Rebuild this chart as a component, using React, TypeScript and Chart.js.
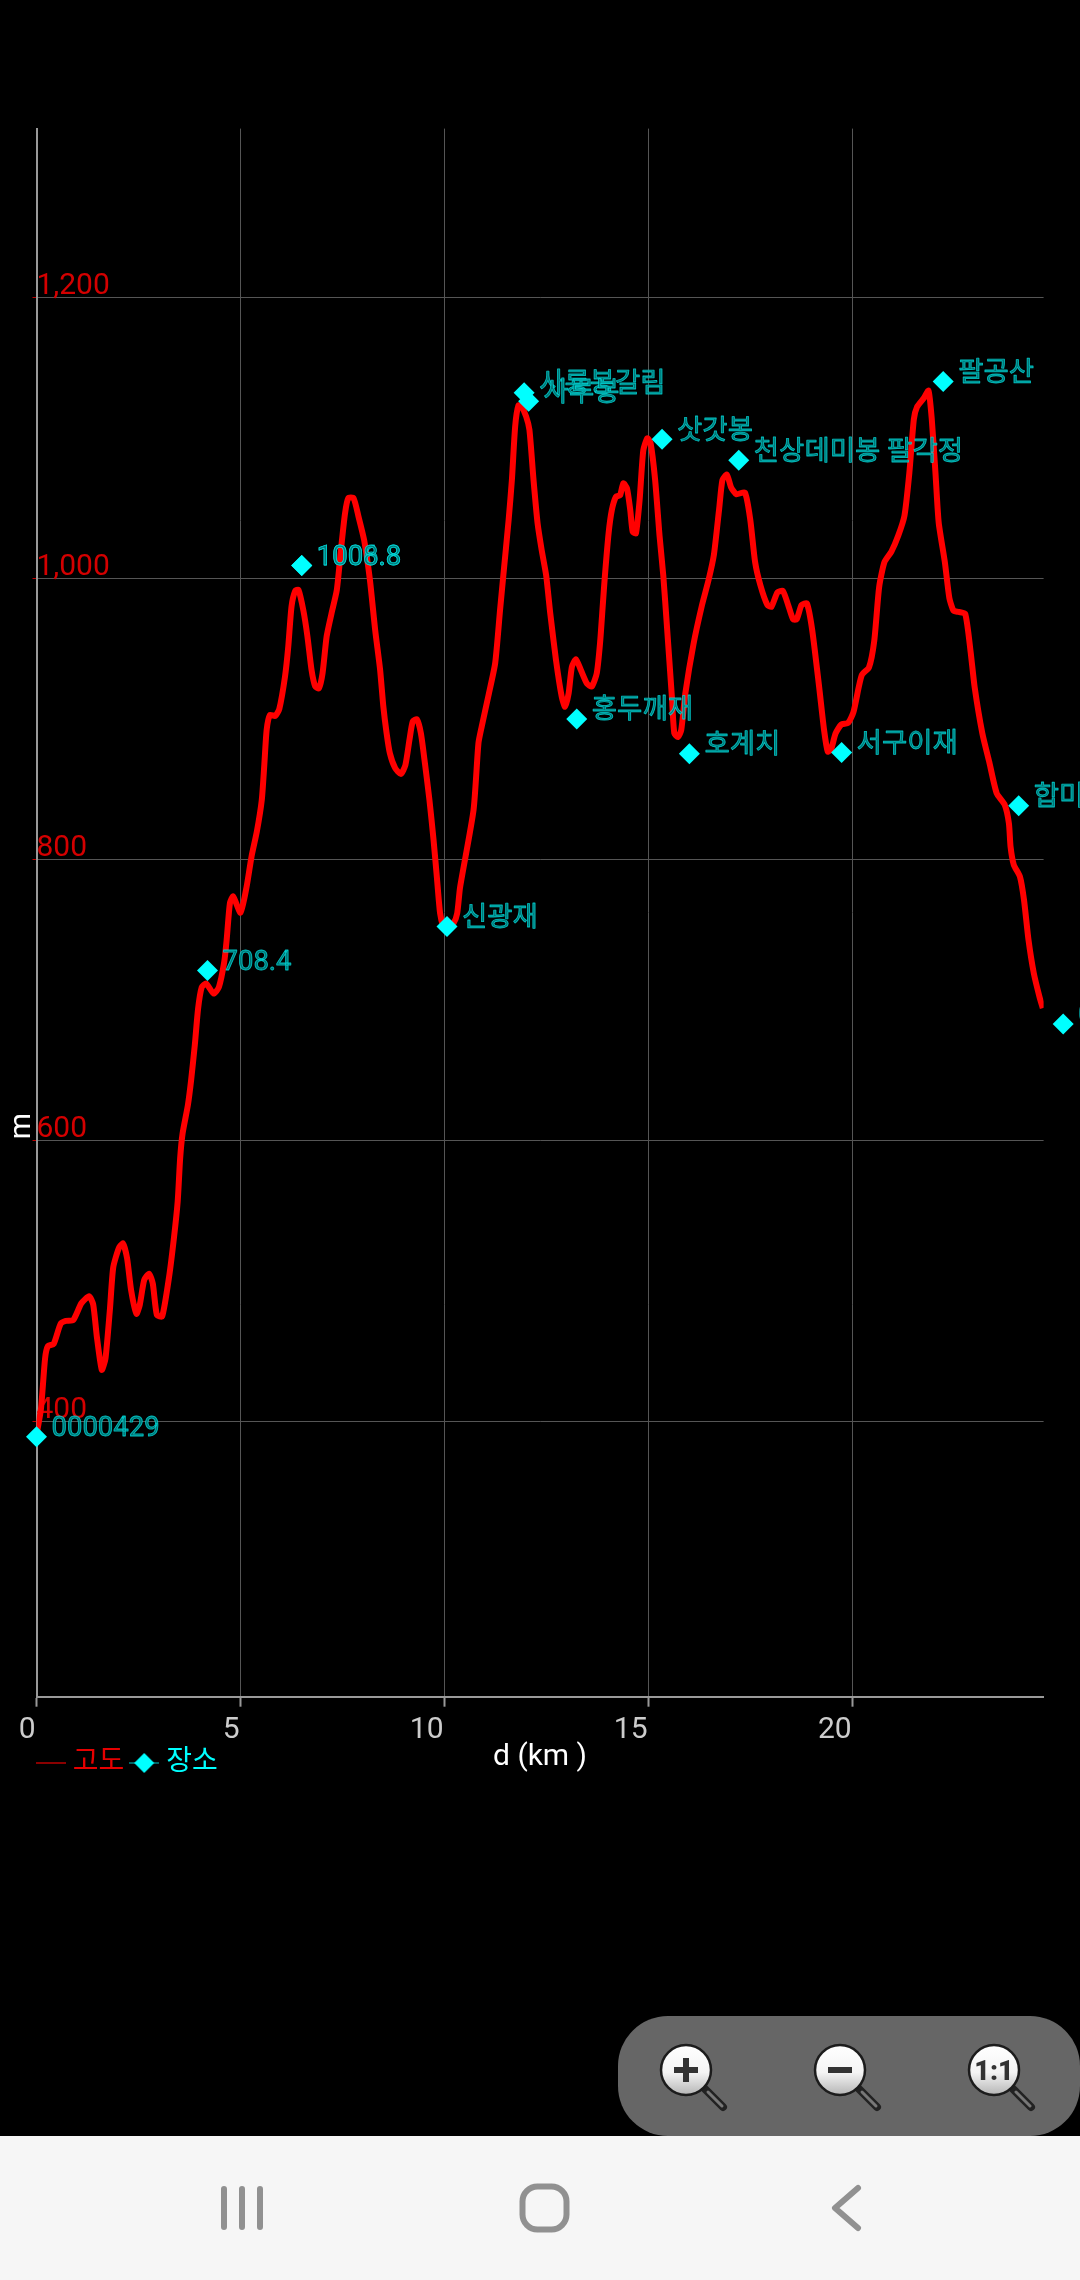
import React, { useEffect, useRef } from "react";
import { Chart, registerables } from "chart.js";

Chart.register(...registerables);

const TEXT_FONT = 'Roboto, "Noto Sans CJK KR", sans-serif';

// Elevation profile: distance (km) / altitude (m)
const distanceKm = [
  0, 0.11, 0.21, 0.28, 0.42, 0.59, 0.72, 0.9, 1.1, 1.29, 1.39, 1.48, 1.6, 1.69, 1.8, 1.88, 2.02, 2.12, 2.22, 2.32,
  2.45, 2.53, 2.64, 2.76, 2.85, 2.95, 3.08, 3.25, 3.37, 3.46, 3.52, 3.58, 3.71, 3.79, 3.88, 3.96, 4.05, 4.16, 4.34, 4.47,
  4.6, 4.66, 4.74, 4.82, 5.0, 5.15, 5.27, 5.4, 5.52, 5.58, 5.64, 5.72, 5.85, 5.95, 6.09, 6.17, 6.25, 6.34, 6.42, 6.54,
  6.64, 6.74, 6.83, 6.92, 7.01, 7.11, 7.23, 7.36, 7.46, 7.56, 7.64, 7.77, 7.89, 8.03, 8.17, 8.3, 8.42, 8.5, 8.58, 8.66,
  8.79, 8.93, 9.04, 9.14, 9.22, 9.32, 9.42, 9.52, 9.63, 9.73, 9.81, 9.89, 9.97, 10.05, 10.22, 10.31, 10.38, 10.71, 10.83, 10.91,
  11.07, 11.24, 11.36, 11.44, 11.57, 11.65, 11.73, 11.81, 11.89, 12.0, 12.08, 12.18, 12.28, 12.38, 12.49, 12.59, 12.73, 12.87, 12.95, 13.04,
  13.12, 13.22, 13.34, 13.49, 13.61, 13.73, 13.81, 13.88, 13.93, 14.02, 14.1, 14.2, 14.3, 14.38, 14.47, 14.55, 14.61, 14.69, 14.78, 14.87,
  14.97, 15.05, 15.16, 15.27, 15.36, 15.45, 15.57, 15.63, 15.72, 15.8, 15.9, 16.1, 16.31, 16.47, 16.6, 16.73, 16.81, 16.92, 17.02, 17.15,
  17.36, 17.49, 17.61, 17.74, 17.91, 18.01, 18.16, 18.29, 18.42, 18.54, 18.63, 18.75, 18.88, 19.01, 19.18, 19.3, 19.39, 19.47, 19.58, 19.72,
  19.89, 20.02, 20.15, 20.23, 20.4, 20.53, 20.65, 20.78, 20.95, 21.12, 21.27, 21.39, 21.5, 21.58, 21.75, 21.86, 21.94, 22.03, 22.11, 22.26,
  22.37, 22.47, 22.6, 22.76, 22.89, 22.99, 23.18, 23.35, 23.53, 23.73, 23.83, 23.87, 23.95, 24.1, 24.2, 24.31, 24.44, 24.58, 24.66,
];
const altitudeM = [
  390, 409, 444.7, 453.6, 455, 469.3, 471.4, 472, 484, 489, 483, 460, 436.6, 444.7, 480, 509.5, 523.5, 526.5, 516, 493,
  476.5, 482.8, 500.6, 505, 498, 475.7, 474.7, 503, 531, 556.5, 587, 604.8, 625, 643, 668, 693.7, 709, 711.5, 704.4, 709,
  726.8, 742.6, 768.7, 773.5, 762, 780.6, 802, 819.7, 842, 866, 892, 902.7, 902, 907, 930, 951.4, 980, 991, 991.7, 977,
  958.5, 934.8, 923, 921.7, 932.4, 958.5, 975, 991.7, 1020, 1046, 1057, 1057, 1044, 1027, 999, 963, 935, 908.6, 889.7, 875.4,
  864.8, 860.7, 867, 885, 898, 899.6, 889.7, 868, 842, 813.8, 787.7, 761.6, 752, 749.7, 754.5, 761.6, 780, 835, 882.5, 894.4,
  915.8, 939.5, 977.4, 1002, 1041.5, 1070, 1108, 1123, 1122, 1115, 1105.6, 1070, 1039, 1020, 1002, 975, 941.9, 915.8, 908.6, 918,
  937, 942.3, 934.7, 925, 923, 932.4, 953.7, 982, 1002, 1032, 1048.6, 1058, 1059, 1067.6, 1064, 1048.6, 1033, 1032, 1055.7, 1091,
  1099.6, 1096, 1070, 1029.7, 1002, 965.6, 915.8, 889.7, 887, 892, 918, 953, 981, 998.8, 1016.6, 1049.6, 1070, 1073.7, 1064.8, 1059.8,
  1061, 1042, 1011.5, 995, 981, 979.7, 990, 991, 981, 970.8, 970.8, 981, 982, 963, 922.5, 892, 876.7, 878, 889.4, 895.8,
  897, 904.7, 922.5, 931.4, 936.5, 955.5, 993.7, 1011.5, 1019, 1030.5, 1044.5, 1075, 1113, 1122, 1128.4, 1133.5, 1113, 1075, 1039.4, 1011.5,
  986, 977, 976, 974.6, 948, 922.5, 889.4, 869, 847, 838.6, 825.6, 809, 796, 787.6, 771, 742.6, 718.9, 702, 694,
];

// Named places (waypoints)
const placeKm = [0, 4.19, 6.5, 6.5, 10.06, 11.95, 12.06, 13.24, 15.33, 16.0, 17.21, 19.73, 22.22, 24.07, 25.16];
const placeM = [389, 720.9, 1009, 1009, 752.2, 1132, 1126, 899.9, 1099, 875, 1083.9, 875.9, 1140, 838, 682.8];
const placeLabels = [
  "0000429", "708.4", "1006.8", "1008.8", "신광재", "사룡봉갈림", "사루봉", "홍두깨재", "삿갓봉", "호계치",
  "천상데미봉 팔각정", "서구이재", "팔공산", "합미성", "0000",
];

const xTickValues = [0, 5, 10, 15, 20];
const yTickValues = [400, 600, 800, 1000, 1200];
const xRange = [0, 24.68];
const yRange = [204, 1320];
const legendNames = ["고도", "장소"];
const xTitle = "d (km )";
const yTitle = "m";

function legendLine(diamond: boolean) {
  const c = document.createElement("canvas");
  c.width = 30;
  c.height = 24;
  const g = c.getContext("2d")!;
  g.strokeStyle = diamond ? "#00c8c8" : "#8a0000";
  g.lineWidth = diamond ? 1 : 2;
  g.beginPath();
  g.moveTo(0, 12);
  g.lineTo(30, 12);
  g.stroke();
  if (diamond) {
    g.fillStyle = "#00ffff";
    g.beginPath();
    g.moveTo(15, 2);
    g.lineTo(25, 12);
    g.lineTo(15, 22);
    g.lineTo(5, 12);
    g.closePath();
    g.fill();
  }
  return c;
}

const placeTextPlugin = {
  id: "placeText",
  afterDatasetsDraw(chart: any) {
    const { ctx, chartArea, scales } = chart;
    ctx.save();
    // Chart.js culls points lying past the plot area; the last waypoint lies there.
    placeKm.forEach((km, i) => {
      const px = scales.x.getPixelForValue(km);
      const py = scales.y.getPixelForValue(placeM[i]);
      if (px > chartArea.right + 10) {
        ctx.fillStyle = "#00ffff";
        ctx.beginPath();
        ctx.moveTo(px, py - 10.5);
        ctx.lineTo(px + 10.5, py);
        ctx.lineTo(px, py + 10.5);
        ctx.lineTo(px - 10.5, py);
        ctx.closePath();
        ctx.fill();
      }
    });
    ctx.font = `27.5px ${TEXT_FONT}`;
    ctx.textAlign = "left";
    ctx.textBaseline = "middle";
    ctx.lineJoin = "round";
    placeKm.forEach((km, i) => {
      const tx = scales.x.getPixelForValue(km) + 15;
      const ty = scales.y.getPixelForValue(placeM[i]) - 7.5;
      ctx.fillStyle = "rgba(0,125,125,0.95)";
      ctx.strokeStyle = "rgba(0,235,235,0.75)";
      ctx.lineWidth = 0.8;
      ctx.fillText(placeLabels[i], tx, ty);
      ctx.strokeText(placeLabels[i], tx, ty);
    });
    ctx.restore();
  },
};

const sideTextPlugin = {
  id: "sideText",
  afterDraw(chart: any) {
    const { ctx } = chart;
    ctx.save();
    ctx.translate(22, 1126);
    ctx.rotate(-Math.PI / 2);
    ctx.font = `30px ${TEXT_FONT}`;
    ctx.fillStyle = "#ffffff";
    ctx.textAlign = "center";
    ctx.textBaseline = "middle";
    ctx.fillText(yTitle, 0, 0);
    ctx.restore();
  },
};

const legendPlacePlugin = {
  id: "legendPlace",
  afterLayout(chart: any) {
    const l = chart.legend;
    if (!l) return;
    l.left = 30.7;
    l.right = 30.7 + 300;
    l.top = 1737;
    l.bottom = 1800;
  },
};

function ProfileChart() {
  const ref = useRef<HTMLCanvasElement | null>(null);
  useEffect(() => {
    const lineIcon = legendLine(false);
    const diamondIcon = legendLine(true);
    const chart = new Chart(ref.current!, {
      type: "line",
      data: {
        datasets: [
          {
            label: legendNames[0],
            data: distanceKm.map((x, i) => ({ x, y: altitudeM[i] })),
            borderColor: "#ff0000",
            borderWidth: 6,
            pointRadius: 0,
            tension: 0.2,
            fill: false,
            order: 2,
          },
          {
            label: legendNames[1],
            data: placeKm.map((x, i) => ({ x, y: placeM[i] })),
            showLine: false,
            pointStyle: "rectRot",
            pointRadius: 10.5,
            pointBackgroundColor: "#00ffff",
            pointBorderWidth: 0,
            borderColor: "#00ffff",
            clip: false,
            order: 1,
          },
        ],
      },
      options: {
        animation: false,
        responsive: false,
        locale: "en-US",
        layout: { padding: { top: 128.6, right: 36.4, left: 0, bottom: 474.3 } },
        plugins: {
          tooltip: { enabled: false },
          legend: {
            position: "bottom",
            align: "start",
            maxHeight: 30,
            labels: {
              usePointStyle: true,
              pointStyleWidth: 16,
              padding: 12,
              font: { family: TEXT_FONT, size: 28 },
              generateLabels: () => [
                { text: legendNames[0], fontColor: "#e60000", pointStyle: lineIcon, datasetIndex: 0, lineWidth: 0 },
                { text: legendNames[1], fontColor: "#00ffff", pointStyle: diamondIcon, datasetIndex: 1, lineWidth: 0 },
              ],
            },
          },
        },
        scales: {
          x: {
            type: "linear",
            min: xRange[0],
            max: xRange[1],
            afterFit: (s: any) => {
              s.height = 79;
            },
            afterBuildTicks: (s: any) => {
              s.ticks = xTickValues.map((value) => ({ value }));
            },
            grid: { color: "#555555", lineWidth: 1, tickColor: "#999999", tickLength: 10, tickWidth: 2 },
            border: { color: "#999999", width: 2 },
            ticks: {
              align: "end",
              maxRotation: 0,
              autoSkip: false,
              labelOffset: -1,
              padding: 6,
              color: "#cccccc",
              font: { family: TEXT_FONT, size: 30 },
              callback: (v: any) => String(v),
            },
            title: {
              display: true,
              text: xTitle,
              color: "#ffffff",
              padding: 0,
              font: { family: TEXT_FONT, size: 30 },
            },
          },
          y: {
            type: "linear",
            min: yRange[0],
            max: yRange[1],
            afterFit: (s: any) => {
              s.width = 36.5;
            },
            afterBuildTicks: (s: any) => {
              s.ticks = yTickValues.map((value) => ({ value }));
            },
            grid: { color: "#555555", lineWidth: 1, tickColor: "#c00000", tickLength: 4 },
            border: { color: "#999999", width: 2 },
            ticks: {
              mirror: true,
              padding: 0,
              labelOffset: -10.5,
              autoSkip: false,
              color: "#d40000",
              font: { family: TEXT_FONT, size: 30 },
              callback: (v: any) => Number(v).toLocaleString("en-US"),
            },
          },
        },
      } as any,
      plugins: [placeTextPlugin, sideTextPlugin, legendPlacePlugin],
    } as any);
    return () => chart.destroy();
  }, []);
  return (
    <canvas
      ref={ref}
      width={1080}
      height={2280}
      style={{ position: "absolute", left: 0, top: 0, width: 1080, height: 2280, display: "block" }}
    />
  );
}

function Magnifier({ cx, mark }: { cx: number; mark: string }) {
  const cy = 2070;
  return (
    <g>
      <line x1={cx + 18} y1={cy + 18} x2={cx + 37} y2={cy + 37} stroke="#222" strokeWidth={8} strokeLinecap="round" />
      <line x1={cx + 22} y1={cy + 22} x2={cx + 36} y2={cy + 36} stroke="#777" strokeWidth={3} strokeLinecap="round" />
      <circle cx={cx} cy={cy} r={25} fill="url(#lens)" stroke="#1c1c1c" strokeWidth={2.5} />
      {mark === "+" && (
        <path d={`M${cx - 12} ${cy}H${cx + 12}M${cx} ${cy - 12}V${cy + 12}`} stroke="#333" strokeWidth={6} />
      )}
      {mark === "-" && <path d={`M${cx - 12} ${cy}H${cx + 12}`} stroke="#333" strokeWidth={6} />}
      {mark === "1:1" && (
        <text
          x={cx}
          y={cy + 10}
          textAnchor="middle"
          fontFamily="Roboto, sans-serif"
          fontWeight={900}
          fontSize={27}
          fill="#333"
        >
          1:1
        </text>
      )}
    </g>
  );
}

export default function App() {
  useEffect(() => {
    document.documentElement.style.background = "#000";
    document.body.style.margin = "0";
    document.body.style.background = "#000";
    document.body.style.overflow = "hidden";
  }, []);
  return (
    <div style={{ position: "absolute", left: 0, top: 0, width: 1080, height: 2280, background: "#000", overflow: "hidden" }}>
      <ProfileChart />
      <svg
        width={1080}
        height={2280}
        viewBox="0 0 1080 2280"
        style={{ position: "absolute", left: 0, top: 0, pointerEvents: "none" }}
      >
        <defs>
          <linearGradient id="lens" x1="0" y1="0" x2="0" y2="1">
            <stop offset="0" stopColor="#ffffff" />
            <stop offset="0.55" stopColor="#f4f4f4" />
            <stop offset="1" stopColor="#b5b5b5" />
          </linearGradient>
        </defs>
        <rect x={618} y={2016} width={462} height={120} rx={50} ry={50} fill="#666666" />
        <Magnifier cx={686} mark="+" />
        <Magnifier cx={840} mark="-" />
        <Magnifier cx={994} mark="1:1" />
        <rect x={0} y={2136} width={1080} height={144} fill="#f6f6f6" />
        <g stroke="#919191" strokeWidth={6} strokeLinecap="round" fill="none">
          <path d="M224 2189V2227M242 2189V2227M260 2189V2227" />
          <rect x={522.5} y={2186.5} width={44} height={43} rx={15} ry={15} />
          <path d="M858 2188L835 2208L858 2228" strokeLinejoin="round" />
        </g>
      </svg>
    </div>
  );
}
